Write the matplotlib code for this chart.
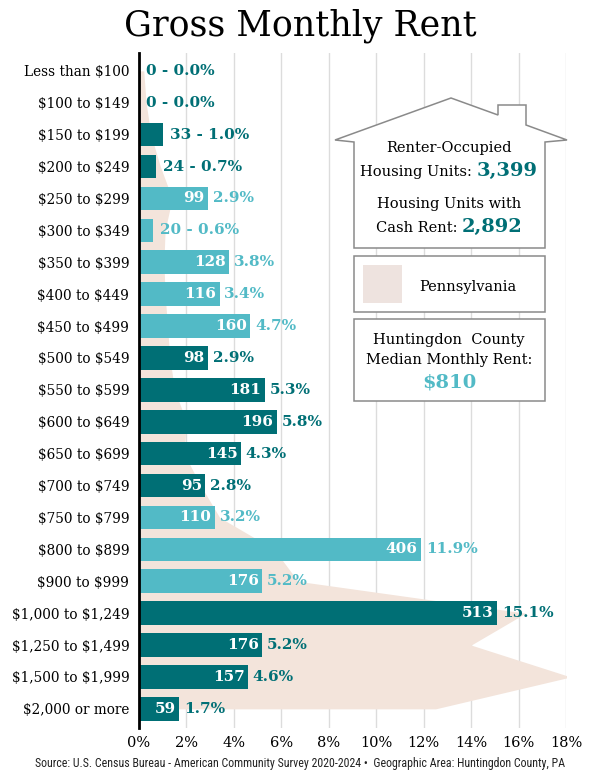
import matplotlib
matplotlib.use("Agg")
import matplotlib.pyplot as plt
from matplotlib.patches import Polygon, Rectangle
import numpy as np

plt.rcParams["text.parse_math"] = False

# rent brackets, Huntingdon County counts and shares, PA shares (background shape)
categories = ["Less than $100", "$100 to $149", "$150 to $199", "$200 to $249",
              "$250 to $299", "$300 to $349", "$350 to $399", "$400 to $449",
              "$450 to $499", "$500 to $549", "$550 to $599", "$600 to $649",
              "$650 to $699", "$700 to $749", "$750 to $799", "$800 to $899",
              "$900 to $999", "$1,000 to $1,249", "$1,250 to $1,499",
              "$1,500 to $1,999", "$2,000 or more"]
counts = [0, 0, 33, 24, 99, 20, 128, 116, 160, 98, 181, 196, 145, 95, 110,
          406, 176, 513, 176, 157, 59]
pct = [0.0, 0.0, 1.0, 0.7, 2.9, 0.6, 3.8, 3.4, 4.7, 2.9, 5.3, 5.8, 4.3, 2.8,
       3.2, 11.9, 5.2, 15.1, 5.2, 4.6, 1.7]
pa_pct = [0.2, 0.3, 0.5, 0.9, 1.4, 1.1, 1.05, 1.1, 1.2, 1.3, 1.5, 2.0, 1.9,
          2.6, 3.4, 5.7, 6.7, 16.3, 14.0, 18.2, 12.5]
light_rows = ["$250 to $299", "$300 to $349", "$350 to $399", "$400 to $449",
              "$450 to $499", "$750 to $799", "$800 to $899", "$900 to $999"]

renter_units = "3,399"
cash_rent_units = "2,892"
median_rent = "$810"
xticks = [0, 2, 4, 6, 8, 10, 12, 14, 16, 18]

DARK = "#006f75"
LIGHT = "#52bac6"
PA_COL = "#f3e4db"
SERIF = ["DejaVu Serif"]
NARROW = ["Liberation Sans Narrow", "DejaVu Sans Condensed", "Roboto Condensed",
          "DejaVu Sans"]

fig = plt.figure(figsize=(6, 7.83), dpi=100)
ax = fig.add_axes([139 / 600, 1 - 728 / 783, (566 - 139) / 600, (728 - 53) / 783])

y = np.arange(len(categories))
colors = [LIGHT if c in light_rows else DARK for c in categories]

# Pennsylvania shape behind the bars
ax.fill_betweenx(y, 0, pa_pct, color=PA_COL, lw=0, zorder=1)
ax.barh(y, pct, height=0.74, color=colors, zorder=2)

for yi, n, p, col in zip(y, counts, pct, colors):
    if n < 40:
        ax.text(p + 0.3, yi, f"{n} - {p:.1f}%", color=col, fontsize=11,
                fontweight="bold", va="center", ha="left", family=SERIF, zorder=4)
    else:
        ax.text(p - 0.15, yi, f"{n}", color="white", fontsize=11,
                fontweight="bold", va="center", ha="right", family=SERIF, zorder=4)
        ax.text(p + 0.2, yi, f"{p:.1f}%", color=col, fontsize=11,
                fontweight="bold", va="center", ha="left", family=SERIF, zorder=4)

ax.set_ylim(len(categories) - 0.4, -0.56)
ax.set_xlim(0, 18)
ax.set_yticks(y)
ax.set_yticklabels(categories, family=SERIF, fontsize=9.8)
ax.set_xticks(xticks)
ax.set_xticklabels([f"{t}%" for t in xticks], family=SERIF, fontsize=10.5)
ax.tick_params(length=0, pad=6)
ax.tick_params(axis="y", pad=7)
ax.grid(axis="x", color="#dcdcdc", lw=1, zorder=0)
ax.set_axisbelow(True)
for s in ["top", "right", "bottom"]:
    ax.spines[s].set_visible(False)
ax.spines["left"].set_linewidth(2)
ax.spines["left"].set_zorder(5)

# overlay in pixel coordinates for title, house and boxes
ov = fig.add_axes([0, 0, 1, 1], zorder=10)
ov.set_xlim(0, 600)
ov.set_ylim(783, 0)
ov.axis("off")
ov.patch.set_alpha(0)
renderer = fig.canvas.get_renderer()


def two_part(cx, cy, plain, value, vcol):
    # plain text followed by a bold coloured number, centred as one line
    t1 = ov.text(0, cy, plain, ha="left", va="baseline", fontsize=10.5,
                 family=SERIF)
    t2 = ov.text(0, cy, value, ha="left", va="baseline", fontsize=14,
                 family=SERIF, color=vcol, fontweight="bold")
    w1 = t1.get_window_extent(renderer).width
    w2 = t2.get_window_extent(renderer).width
    start = cx - (w1 + w2) / 2
    t1.set_x(start)
    t2.set_x(start + w1)


ov.text(300, 26, "Gross Monthly Rent", ha="center", va="center",
        fontsize=25, family=SERIF)

house = [(335, 140), (451, 98), (498, 115), (498, 105), (526, 105), (526, 125),
         (567, 140), (545, 142), (545, 248), (354, 248), (354, 142)]
ov.add_patch(Polygon(house, closed=True, fc="white", ec="#8a8a8a", lw=1.1))

ov.text(449, 148, "Renter-Occupied", ha="center", va="center", fontsize=10.5,
        family=SERIF)
two_part(449, 176, "Housing Units: ", renter_units, DARK)
ov.text(449, 204, "Housing Units with", ha="center", va="center",
        fontsize=10.5, family=SERIF)
two_part(449, 232, "Cash Rent: ", cash_rent_units, DARK)

ov.add_patch(Rectangle((354, 256), 191, 56, fc="white", ec="#8a8a8a", lw=1.1))
ov.add_patch(Rectangle((363, 265), 39, 38, fc="#eee3df", ec="none"))
ov.text(468, 287, "Pennsylvania", ha="center", va="center", fontsize=10.5,
        family=SERIF)

ov.add_patch(Rectangle((354, 319), 191, 82, fc="white", ec="#8a8a8a", lw=1.1))
ov.text(449, 340, "Huntingdon  County", ha="center", va="center",
        fontsize=10.5, family=SERIF)
ov.text(449, 360, "Median Monthly Rent:", ha="center", va="center",
        fontsize=10.5, family=SERIF)
ov.text(449, 382, median_rent, ha="center", va="center", fontsize=14,
        family=SERIF, color=LIGHT, fontweight="bold")

ov.text(300, 763, "Source: U.S. Census Bureau - American Community Survey "
        "2020-2024 \u2022  Geographic Area: Huntingdon County, PA",
        ha="center", va="center", fontsize=8.6, fontstretch="condensed",
        family=NARROW, color="#222222")

fig.savefig("out.png", dpi=100)
